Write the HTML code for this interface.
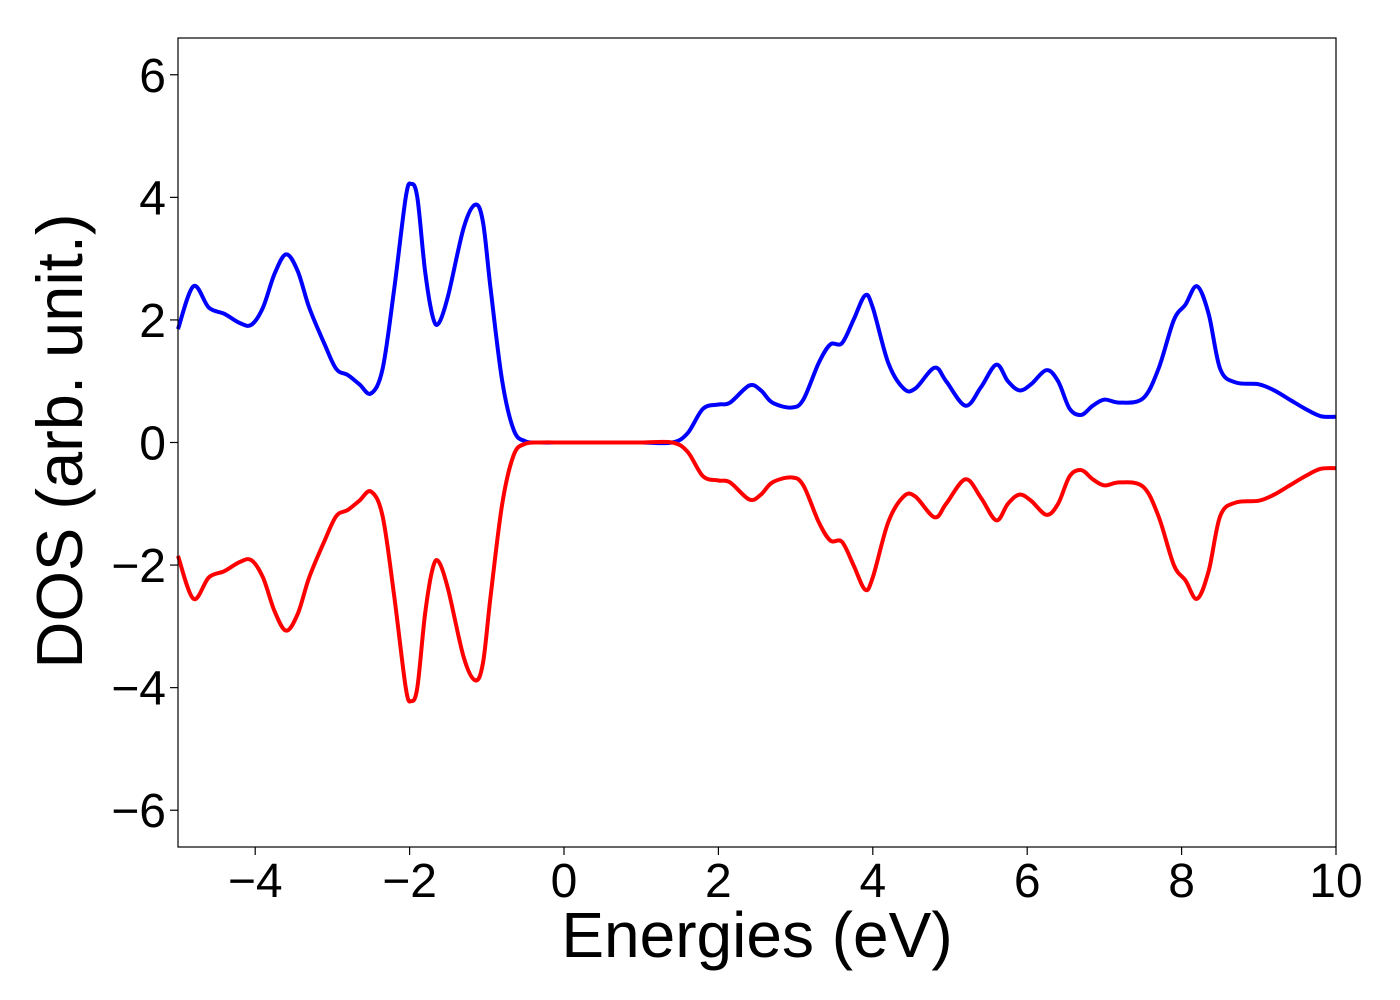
<!DOCTYPE html>
<html><head><meta charset="utf-8"><style>
body{margin:0;background:#fff}
svg{display:block;font-family:"Liberation Sans","DejaVu Sans",sans-serif}
</style></head><body>
<svg id="chart" width="1400" height="1000">
<rect width="1400" height="1000" fill="#fff"/>
<g id="ticks"></g>
<g id="series"></g>
<rect x="178" y="38" width="1158" height="809" fill="none" stroke="#000" stroke-width="1.2"/>
<text x="757" y="957" font-size="64" text-anchor="middle">Energies (eV)</text>
<text transform="translate(82,441) rotate(-90)" font-size="65" text-anchor="middle">DOS (arb. unit.)</text>
</svg>
<script>
const energies=[-5,-4.8,-4.6,-4.4,-4.2,-4.05,-3.9,-3.75,-3.6,-3.45,-3.3,-3.1,-2.95,-2.8,-2.65,-2.5,-2.35,-2.2,-2.05,-1.98,-1.9,-1.8,-1.7,-1.62,-1.5,-1.3,-1.15,-1.05,-0.95,-0.8,-0.65,-0.5,-0.3,0,0.5,1.0,1.4,1.6,1.8,2.0,2.15,2.4,2.55,2.7,2.95,3.1,3.3,3.45,3.6,3.75,3.9,4.0,4.2,4.4,4.55,4.8,4.95,5.2,5.4,5.6,5.75,5.9,6.05,6.25,6.4,6.55,6.7,6.85,7.0,7.2,7.5,7.7,7.9,8.05,8.2,8.35,8.5,8.7,9.0,9.2,9.4,9.6,9.8,10];
const dosUp=[1.85,2.55,2.2,2.1,1.95,1.92,2.2,2.75,3.07,2.8,2.2,1.6,1.2,1.1,0.95,0.8,1.2,2.5,4.0,4.22,4.0,2.8,2.05,1.95,2.4,3.5,3.88,3.6,2.5,1.0,0.2,0.02,0,0,0,0,0,0.15,0.55,0.62,0.65,0.93,0.85,0.65,0.57,0.7,1.3,1.6,1.62,2.0,2.4,2.2,1.3,0.88,0.88,1.22,1.0,0.6,0.9,1.27,1.0,0.85,0.95,1.18,1.0,0.55,0.45,0.6,0.7,0.65,0.72,1.2,2.0,2.25,2.55,2.1,1.2,0.98,0.95,0.85,0.7,0.55,0.43,0.42];
const dosDown=[-1.85,-2.55,-2.2,-2.1,-1.95,-1.92,-2.2,-2.75,-3.07,-2.8,-2.2,-1.6,-1.2,-1.1,-0.95,-0.8,-1.2,-2.5,-4.0,-4.22,-4.0,-2.8,-2.05,-1.95,-2.4,-3.5,-3.88,-3.6,-2.5,-1.0,-0.2,-0.02,0,0,0,0,0,-0.15,-0.55,-0.62,-0.65,-0.93,-0.85,-0.65,-0.57,-0.7,-1.3,-1.6,-1.62,-2.0,-2.4,-2.2,-1.3,-0.88,-0.88,-1.22,-1.0,-0.6,-0.9,-1.27,-1.0,-0.85,-0.95,-1.18,-1.0,-0.55,-0.45,-0.6,-0.7,-0.65,-0.72,-1.2,-2.0,-2.25,-2.55,-2.1,-1.2,-0.98,-0.95,-0.85,-0.7,-0.55,-0.43,-0.42];
const xTicks=[-4,-2,0,2,4,6,8,10];
const yTicks=[-6,-4,-2,0,2,4,6];
const X0=178,X1=1336,Y0=38,Y1=847,xMin=-5,xMax=10,yMin=-6.6,yMax=6.6;
const sx=v=>X0+(v-xMin)/(xMax-xMin)*(X1-X0);
const sy=v=>Y1-(v-yMin)/(yMax-yMin)*(Y1-Y0);
const NS="http://www.w3.org/2000/svg";
const fmt=v=>v<0?"\u2212"+(-v):""+v;
const tg=document.getElementById('ticks');
xTicks.forEach(t=>{
 const l=document.createElementNS(NS,'line');
 l.setAttribute('x1',sx(t));l.setAttribute('x2',sx(t));l.setAttribute('y1',Y1);l.setAttribute('y2',Y1+8);l.setAttribute('stroke','#000');l.setAttribute('stroke-width','1.2');
 
 
 tg.appendChild(l);
 const tx=document.createElementNS(NS,'text');
 tx.setAttribute('x',sx(t));tx.setAttribute('y',Y1+50);tx.setAttribute('font-size','48');tx.setAttribute('text-anchor','middle');tx.textContent=fmt(t);
 
 
 tg.appendChild(tx);
});
yTicks.forEach(t=>{
 const l=document.createElementNS(NS,'line');
 l.setAttribute('x1',X0-8);l.setAttribute('x2',X0);l.setAttribute('y1',sy(t));l.setAttribute('y2',sy(t));l.setAttribute('stroke','#000');l.setAttribute('stroke-width','1.2');
 
 
 tg.appendChild(l);
 const tx=document.createElementNS(NS,'text');
 tx.setAttribute('x',X0-12);tx.setAttribute('y',sy(t)+17);tx.setAttribute('font-size','48');tx.setAttribute('text-anchor','end');tx.textContent=fmt(t);
 
 
 tg.appendChild(tx);
});
function pathFor(xs,ys){
 const p=xs.map((x,i)=>[sx(x),sy(ys[i])]);
 let d="M"+p[0][0]+","+p[0][1];
 for(let i=0;i<p.length-1;i++){
  const a=p[Math.max(0,i-1)],b=p[i],c=p[i+1],e=p[Math.min(p.length-1,i+2)];
  const c1=[b[0]+(c[0]-a[0])/6,b[1]+(c[1]-a[1])/6],c2=[c[0]-(e[0]-b[0])/6,c[1]-(e[1]-b[1])/6];
  d+=` C${c1[0]},${c1[1]} ${c2[0]},${c2[1]} ${c[0]},${c[1]}`;
 }
 return d;
}
const sg=document.getElementById('series');
[[dosUp,'#0000ff','spin-up-line'],[dosDown,'#ff0000','spin-down-line']].forEach(([ys,col,nm])=>{
 const p=document.createElementNS(NS,'path');
 p.setAttribute('d',pathFor(energies,ys));p.setAttribute('fill','none');p.setAttribute('stroke',col);p.setAttribute('stroke-width','4');p.setAttribute('stroke-linejoin','round');
 
 
 sg.appendChild(p);
});
</script>
</body></html>
